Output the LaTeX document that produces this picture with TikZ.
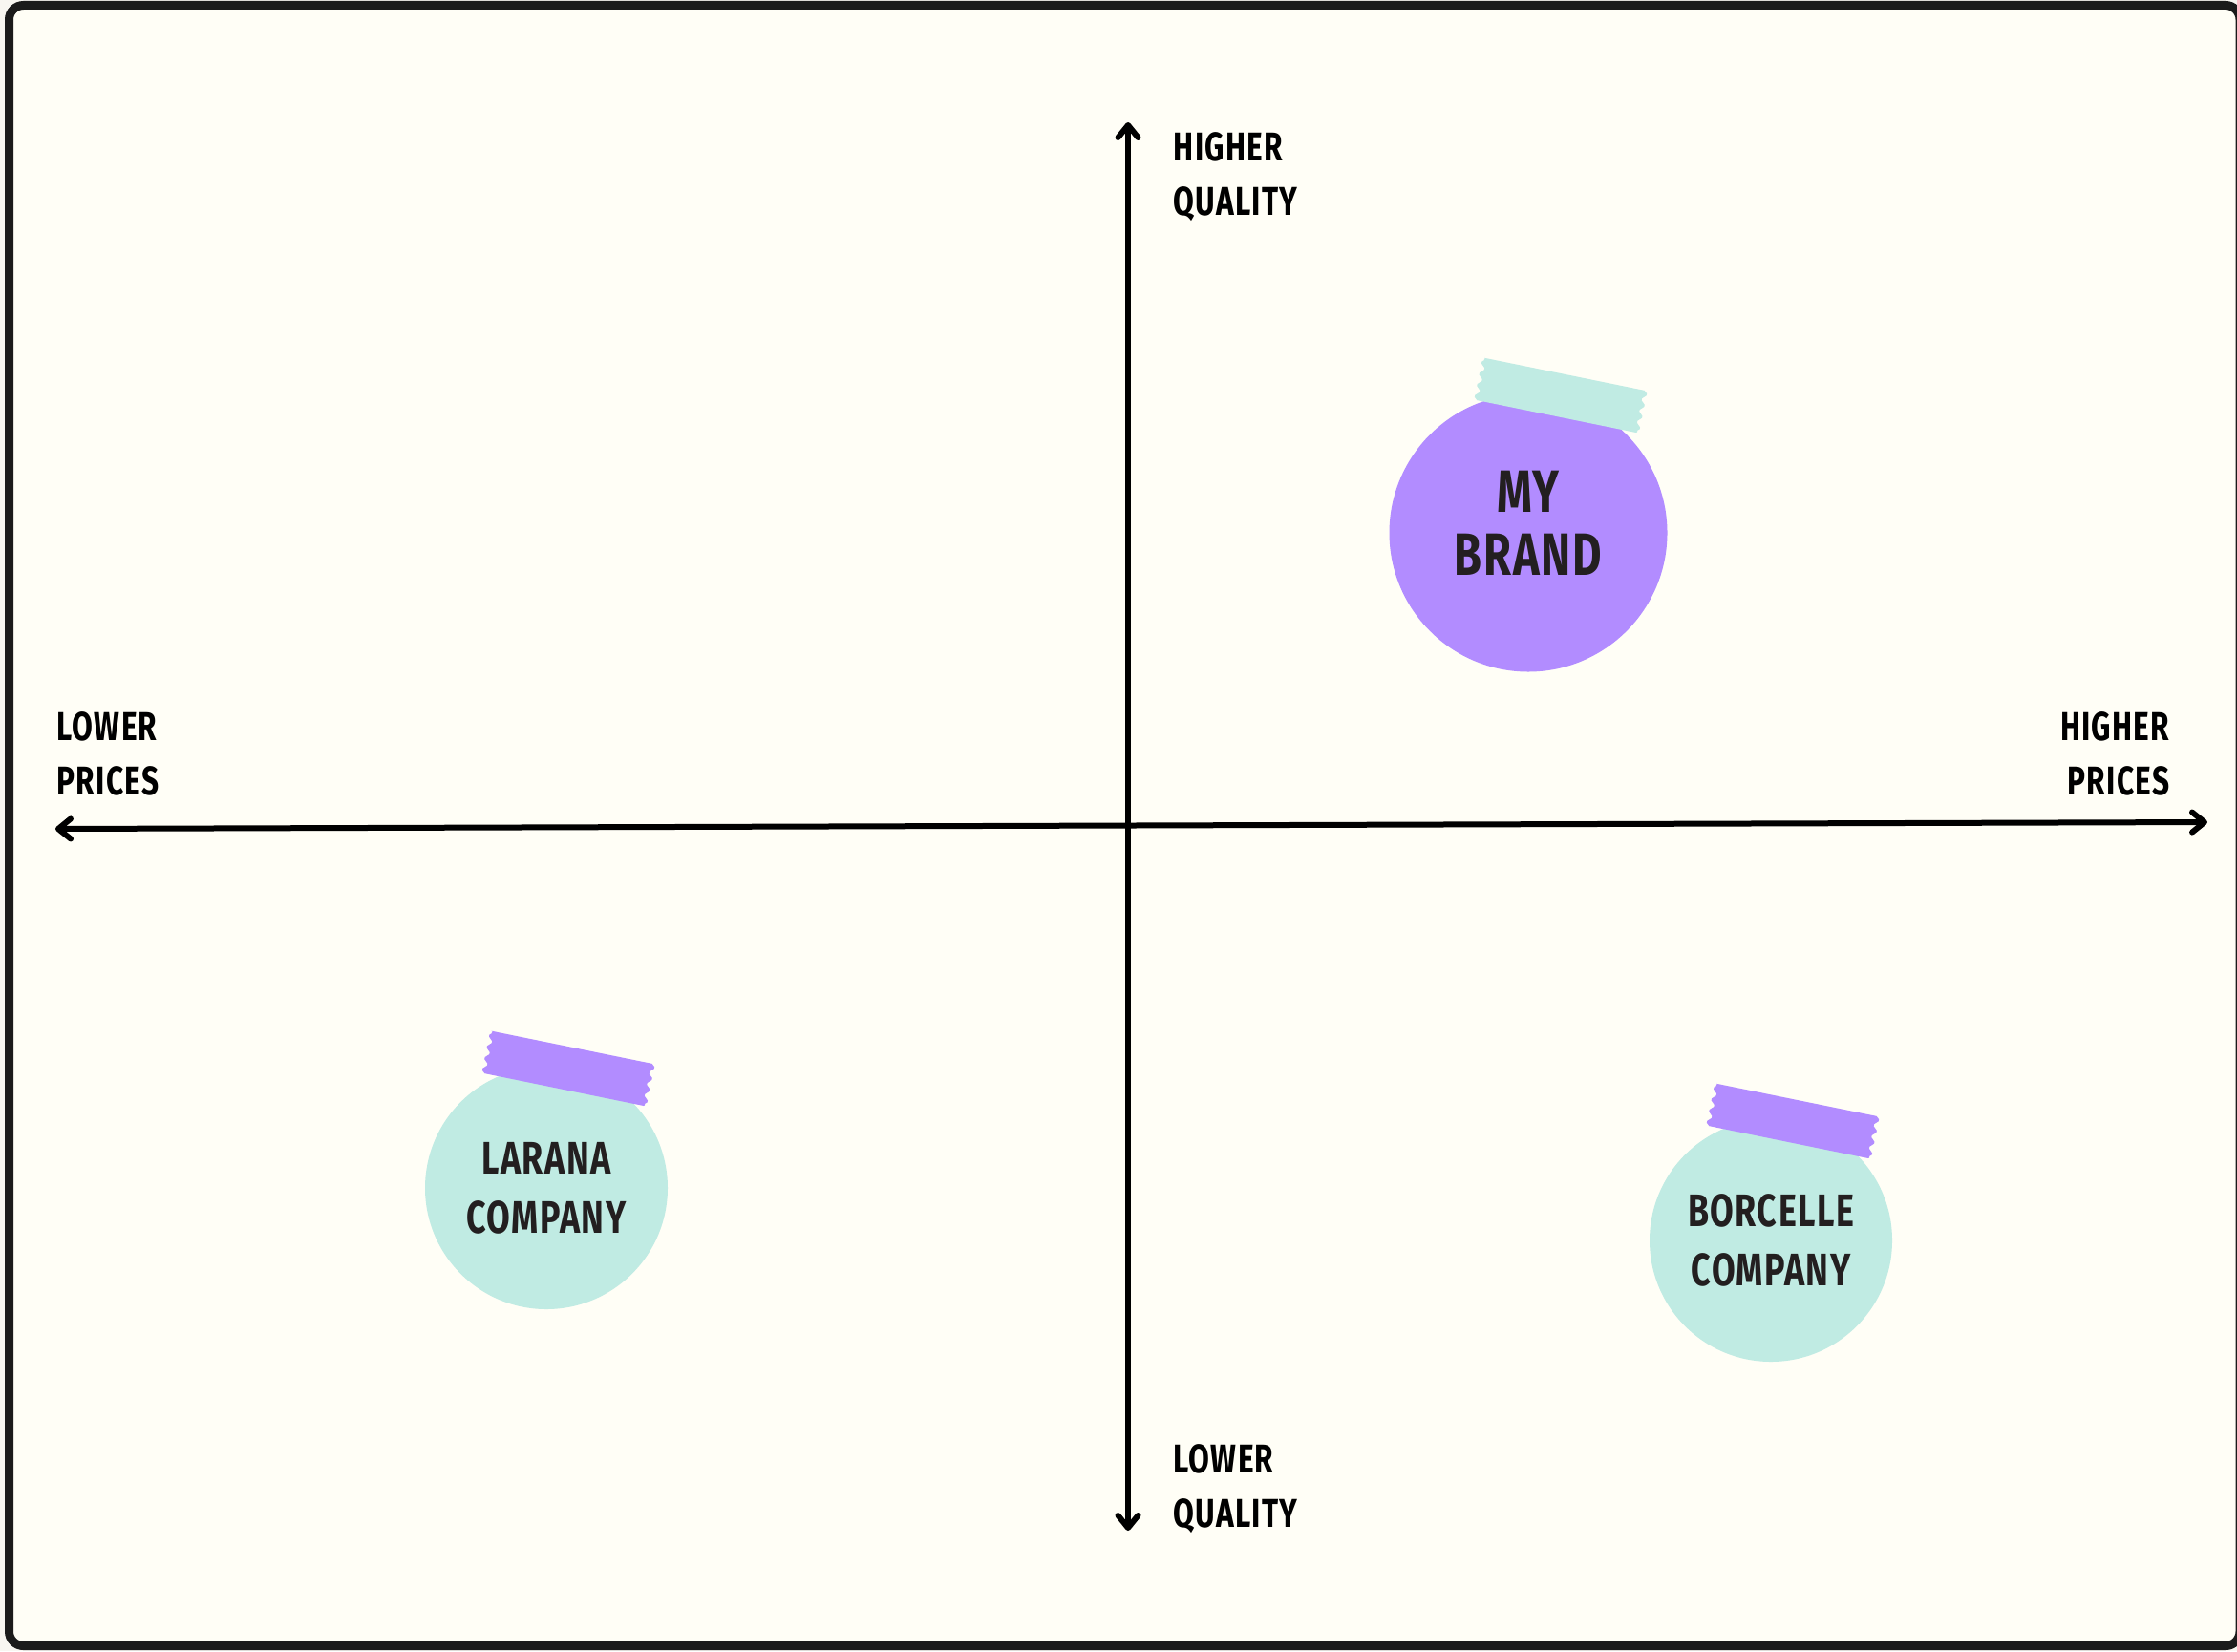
\documentclass[tikz,border=0pt]{standalone}
\usepackage{fontspec}
\setmainfont{Fira Sans}[FakeStretch=0.75, LetterSpace=3]
\usetikzlibrary{arrows.meta,decorations.pathmorphing}

\definecolor{fond}{HTML}{F8F6F1}
\definecolor{creme}{HTML}{FFFEF6}
\definecolor{cadre}{HTML}{1B1B1B}
\definecolor{lilas}{HTML}{B28CFF}
\definecolor{menthe}{HTML}{C0EBE3}
\definecolor{encre}{HTML}{231F20}

\tikzset{bulle/.style = {circle, fill = #1, inner sep = 0pt, align = center, text = encre,
                         minimum size = 2.54cm,
                         font = \fontsize{13.6}{17.6}\selectfont\bfseries},
         bulle/.default = menthe,
         axe/.style = {line width = 0.6mm, line cap = round,
                       >={Straight Barb[length=1.3mm, width=2.1mm, round]}, <->},
         etiquette/.style = {inner sep = 0pt, align = left, text = black,
                             font = \fontsize{12}{16.2}\selectfont\bfseries},
         ruban/.pic = {\fill[pic actions, rounded corners = 0.3pt,
                             decoration = {snake, amplitude = 0.2mm, segment length = 1.2mm}]
                        (-0.86,0.225) -- (0.86,0.225) decorate{-- (0.86,-0.225)}
                        -- (-0.86,-0.225) decorate{-- (-0.86,0.225)} -- cycle;}
        }

\begin{document}
\begin{tikzpicture}
  \useasboundingbox (0,0) rectangle (23.42,-17.29);
  \fill[fond] (0,0) rectangle (23.42,-17.29);
  \draw[cadre, fill = creme, line width = 0.9mm, rounded corners = 1.5mm]
    (0.095,-0.055) rectangle (23.45,-17.235);

  \coordinate (qhaut) at (11.81,-1.28);
  \coordinate (qbas) at (11.81,-16.03);
  \coordinate (pgauche) at (0.58,-8.68);
  \coordinate (pdroite) at (23.11,-8.61);
  \draw[axe] (qbas) -- (qhaut);
  \draw[axe] (pgauche) -- (pdroite);

  \node[etiquette, anchor = north west] (hq) at (12.28,-1.38) {HIGHER\\QUALITY};
  \node[etiquette, anchor = north west] (lq) at (12.28,-15.12) {LOWER\\QUALITY};
  \node[etiquette, anchor = north west] (lp) at (0.59,-7.45) {LOWER\\PRICES};
  \node[etiquette, anchor = north east, align = right] (hp) at (22.72,-7.45) {HIGHER\\PRICES};

  \node[bulle = lilas, minimum size = 2.91cm, text depth = 2mm,
        font = \fontsize{17.8}{18.8}\selectfont\bfseries] (marque) at (16.00,-5.58) {MY\\BRAND};
  \node[bulle] (larana) at (5.72,-12.44) {LARANA\\COMPANY};
  \node[bulle] (borcelle) at (18.54,-12.99) {BORCELLE\\COMPANY};

  \pic[fill = menthe, rotate = -11.5] at (16.34,-4.14) {ruban};
  \pic[fill = lilas, rotate = -11.5] at (5.95,-11.19) {ruban};
  \pic[fill = lilas, rotate = -11.5] at (18.77,-11.74) {ruban};
\end{tikzpicture}
\end{document}
